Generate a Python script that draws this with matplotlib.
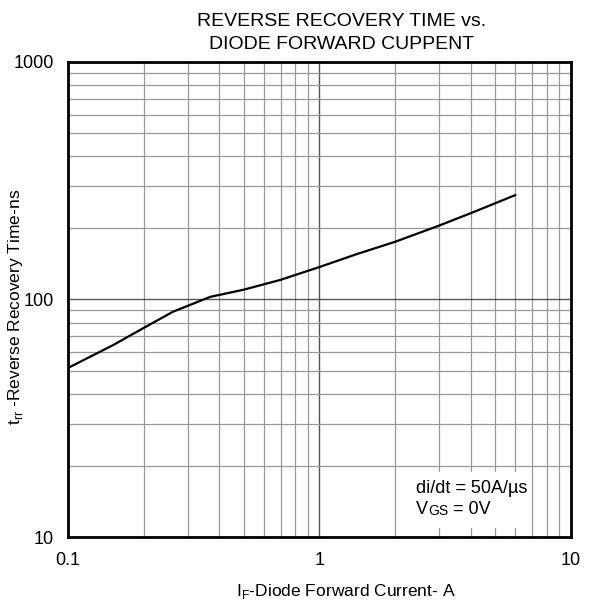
import numpy as np
import matplotlib
matplotlib.use('Agg')
import matplotlib.pyplot as plt
from matplotlib.patches import Rectangle
from matplotlib.ticker import LogLocator, NullFormatter, FixedLocator, FixedFormatter

plt.rcParams['font.family'] = ['Liberation Sans', 'DejaVu Sans']

# I_F (A) and t_rr (ns)
current = [0.1, 0.15, 0.204, 0.262, 0.367, 0.5, 0.697, 1.0, 1.4, 2.0, 3.0, 4.0, 6.0]
trr = [51.5, 64.0, 76.8, 88.9, 102.5, 110.0, 120.8, 137.0, 155.0, 175.0, 205.0, 231.0, 275.0]

x_ticks = [0.1, 1, 10]
x_labels = ['0.1', '1', '10']
y_ticks = [10, 100, 1000]
y_labels = ['10', '100', '1000']

fig = plt.figure(figsize=(5.98, 6.07), dpi=100)
ax = fig.add_axes([0.1137, 0.1153, 0.8411, 0.7826])
ax.set_xscale('log')
ax.set_yscale('log')
ax.set_xlim(0.1, 10)
ax.set_ylim(10, 1000)

ax.plot(current, trr, color='black', linewidth=1.6, zorder=3)

ax.xaxis.set_major_locator(FixedLocator(x_ticks))
ax.xaxis.set_major_formatter(FixedFormatter(x_labels))
ax.yaxis.set_major_locator(FixedLocator(y_ticks))
ax.yaxis.set_major_formatter(FixedFormatter(y_labels))
ax.xaxis.set_minor_locator(LogLocator(base=10, subs=np.arange(2, 10)))
ax.yaxis.set_minor_locator(LogLocator(base=10, subs=np.arange(2, 10)))
ax.xaxis.set_minor_formatter(NullFormatter())
ax.yaxis.set_minor_formatter(NullFormatter())

ax.grid(which='major', color='#555555', linewidth=1.0)
ax.grid(which='minor', color='#999999', linewidth=0.9)
ax.tick_params(which='both', length=0, labelsize=13)
ax.tick_params(axis='x', pad=11)
ax.tick_params(axis='y', pad=10)
for s in ax.spines.values():
    s.set_linewidth(2.0)
    s.set_zorder(4)

fig.text(0.571, 0.9638, 'REVERSE RECOVERY TIME vs.', ha='center', va='center', fontsize=14)
fig.text(0.571, 0.9259, 'DIODE FORWARD CUPPENT', ha='center', va='center', fontsize=14)
fig.text(0.578, 0.025, 'I$_\\mathregular{F}$-Diode Forward Current- A',
         ha='center', va='center', fontsize=12.5)
fig.text(0.026, 0.495, 't$_\\mathregular{rr}$ -Reverse Recovery Time-ns',
         ha='center', va='center', rotation=90, fontsize=12.5)

# white patch behind the note, hides the grid there
ax.add_patch(Rectangle((0.672, 0.019), 0.245, 0.118, transform=ax.transAxes,
                       facecolor='white', edgecolor='none', zorder=2.5))
ax.text(0.691, 0.103, 'di/dt = 50A/\u00b5s', transform=ax.transAxes, fontsize=13,
        va='center', zorder=5)
t_v = ax.text(0.691, 0.057, 'V', transform=ax.transAxes, fontsize=13, va='center', zorder=5)
t_gs = ax.annotate('GS', xy=(1, 0), xycoords=t_v, xytext=(0.5, 0.6),
                   textcoords='offset points', fontsize=10, ha='left', va='bottom', zorder=5)
ax.annotate('= 0V', xy=(1, 0), xycoords=t_gs, xytext=(3, -0.6),
            textcoords='offset points', fontsize=13, ha='left', va='bottom', zorder=5)

plt.savefig('out.png', dpi=100)
